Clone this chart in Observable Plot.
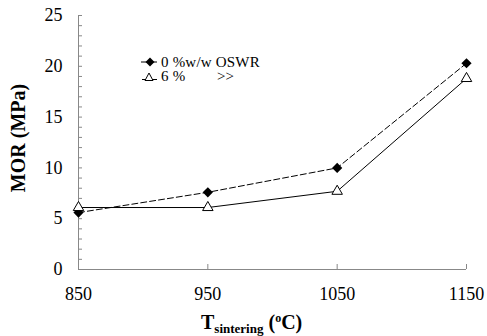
<!DOCTYPE html>
<html><head><meta charset="utf-8">
<script src="https://cdn.jsdelivr.net/npm/d3@7"></script>
<script src="https://cdn.jsdelivr.net/npm/@observablehq/plot@0.6"></script>
<style>
body{margin:0;background:#fff;}
#wrap{position:relative;width:487px;height:336px;font-family:"Liberation Serif","Times New Roman",serif;overflow:hidden;}
#chart svg, #chart svg text{font-family:"Liberation Serif","Times New Roman",serif;}
#legend{position:absolute;left:139px;top:55px;font-size:15px;line-height:14.5px;color:#000;}
#legend div{display:flex;align-items:center;white-space:pre;height:14.5px;overflow:visible;}
#legend span{display:inline-block;height:13px;line-height:13px;overflow:visible;letter-spacing:0.2px;}
#legend svg{margin-right:2px;}
#xt{position:absolute;left:201px;top:312px;font-weight:bold;font-size:20px;line-height:20px;white-space:nowrap;}
#xt sub{font-size:13px;line-height:0;vertical-align:-4px;}
#xt sup{font-size:12px;line-height:0;vertical-align:7px;}
#yt{position:absolute;left:18px;top:138px;transform:translate(-50%,-50%) rotate(-90deg);font-weight:bold;font-size:20px;white-space:nowrap;line-height:20px;}
</style></head>
<body><div id="wrap"><div id="chart"></div>
<div id="legend"></div>
<div id="xt">T<sub>sintering</sub> (<sup>o</sup>C)</div>
<div id="yt">MOR (MPa)</div>
</div>
<script>
const temperatures = [850, 950, 1050, 1150];
const mor0 = [5.6, 7.6, 10.0, 20.3];
const mor6 = [6.1, 6.1, 7.7, 18.8];
const seriesNames = ["0 %w/w OSWR", "6 %        >>"];
const xTicks = [850, 950, 1050, 1150];
const yTicks = [0, 5, 10, 15, 20, 25];
const yMinorTicks = d3.range(0, 26, 1);

const d0 = temperatures.map((t, i) => ({t, v: mor0[i]}));
const d6 = temperatures.map((t, i) => ({t, v: mor6[i]}));

const chart = Plot.plot({
  width: 487, height: 336,
  marginLeft: 78, marginRight: 21, marginTop: 15, marginBottom: 67,
  style: {fontFamily: "'Liberation Serif', 'Times New Roman', serif", fontSize: "18px", color: "#000", background: "#fff"},
  x: {domain: [850, 1150]},
  y: {domain: [0, 25]},
  marks: [
    Plot.ruleX([850], {stroke: "#888"}),
    Plot.ruleY([0], {stroke: "#888"}),
    Plot.axisY(yMinorTicks, {tickSize: 4, dx: 4, text: null, stroke: "#888", label: null}),
    Plot.axisY(yTicks, {tickSize: 0, tickPadding: 16, label: null, fill: "#000", fontSize: 18, tickFormat: d => String(d)}),
    Plot.axisX(xTicks, {tickSize: 5, dy: -5, text: null, stroke: "#888", label: null}),
    Plot.axisX(xTicks, {tickSize: 0, tickPadding: 18, label: null, fill: "#000", fontSize: 18, tickFormat: d => String(d)}),
    Plot.line(d0, {x: "t", y: "v", stroke: "#000", strokeWidth: 1, strokeDasharray: "6,3"}),
    Plot.line(d6, {x: "t", y: "v", stroke: "#000", strokeWidth: 1}),
    Plot.dot(d0, {x: "t", y: "v", symbol: "diamond2", r: 4.6, fill: "#000", stroke: "none"}),
    Plot.dot(d6, {x: "t", y: "v", symbol: "triangle", r: 3.9, fill: "#fff", stroke: "#000", strokeWidth: 1})
  ]
});
document.getElementById("chart").append(chart);

const leg = document.getElementById("legend");
const syms = [
  '<svg width="20" height="14"><line x1="2" y1="7" x2="18" y2="7" stroke="#000"/><path d="M11,2.5 L15.5,7 L11,11.5 L6.5,7Z" fill="#000"/></svg>',
  '<svg width="20" height="14"><line x1="3" y1="9.5" x2="18" y2="9.5" stroke="#000"/><path d="M10,3 L14,10.5 L6,10.5Z" fill="#fff" stroke="#000"/></svg>'
];
seriesNames.forEach((n, i) => {
  const d = document.createElement("div");
  d.innerHTML = syms[i] + '<span>' + n + '</span>';
  leg.append(d);
});
</script></body></html>
